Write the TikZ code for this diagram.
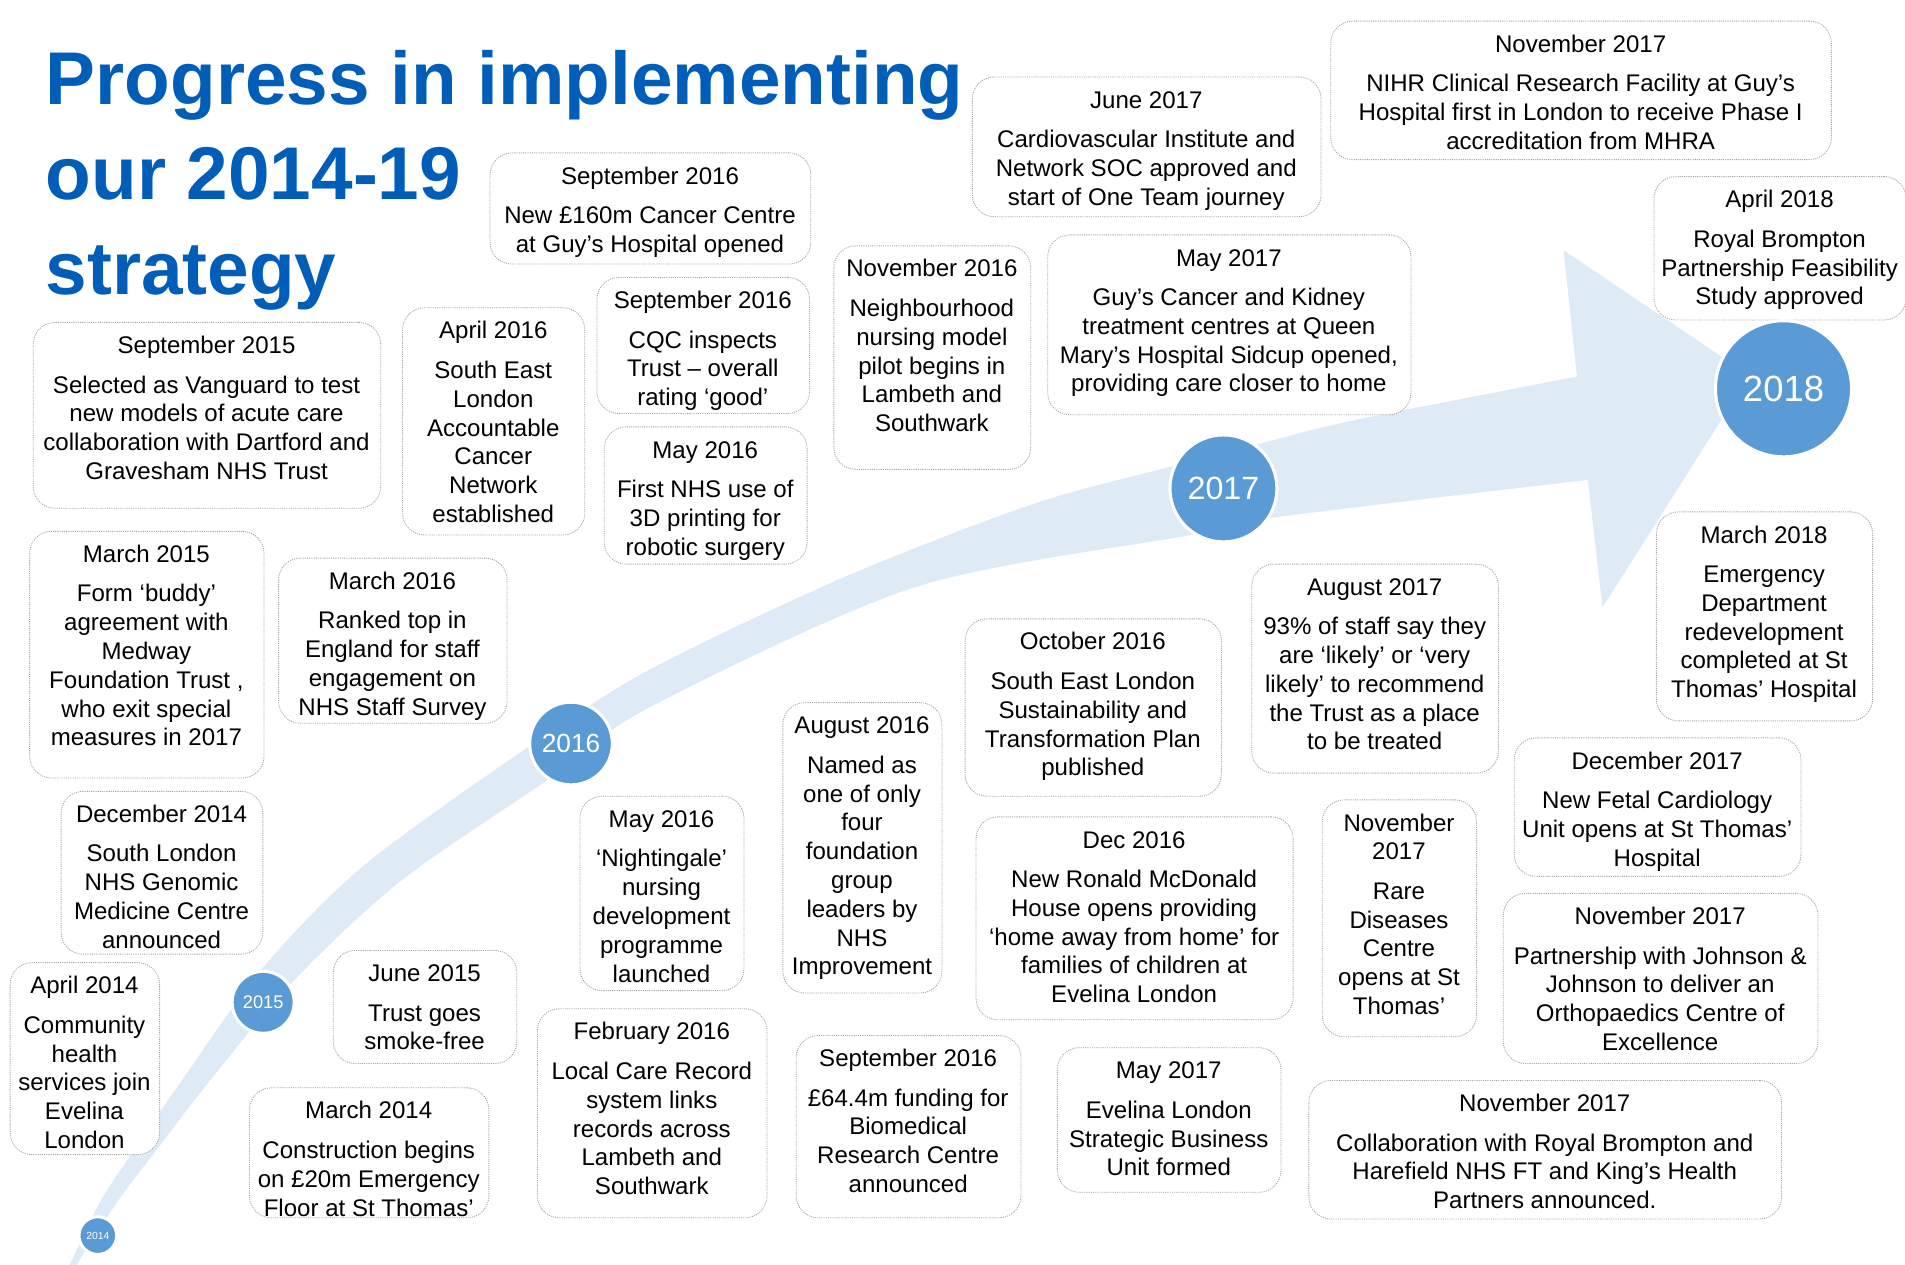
\documentclass[tikz,border=0pt]{standalone}
\usepackage{fontspec}
\setmainfont{Liberation Sans}
\definecolor{titleblue}{HTML}{005EB8}
\definecolor{circblue}{HTML}{5B9BD5}
\definecolor{bandblue}{HTML}{DEEBF7}
\definecolor{boxline}{HTML}{A6A6A6}
\tikzset{
 evt/.style={draw=boxline, line width=0.7pt, dash pattern=on 0.9pt off 0.9pt, rounded corners=18pt, fill=white, inner sep=0pt},
 evtxt/.style={align=center, inner sep=0pt, anchor=north, font=\fontsize{19.8}{23.7}\selectfont, text=black},
 yr/.style={circle, fill=circblue, draw=white, line width=2.5pt, text=white, inner sep=0pt},
 ttl/.style={anchor=base west, text=titleblue, font=\fontsize{61.5}{78}\selectfont\bfseries, inner sep=0pt}
}
\newcommand\evbox[7]{%
 \node[evt, anchor=north west, minimum width={(#4-#2)*1pt}, minimum height={(#5-#3)*1pt}] (#1) at (#2,#3) {};
 \node[evtxt] (#1t) at ({(#2+#4)/2},{#3+9.2}) {\strut#6\\[8.8pt]#7};}
\begin{document}
\begin{tikzpicture}[x=1pt,y=-1pt]
\useasboundingbox (0,0) rectangle (1568,1040.4);
\fill[white] (0,0) rectangle (1568,1040.4);
% band and arrow
\fill[bandblue] plot[smooth] coordinates {(55,1046) (82,990) (108,950) (152,886) (216,797) (300,712) (436,614) (535,551) (695,475) (850,415) (964,384) (1038,365) (1114,346) (1298,310)}
 -- (1287,206) -- (1440,309) -- (1319,500) --
 plot[smooth] coordinates {(1307,395) (1048,426) (982,440) (754,483) (535,582) (452,641) (330,725) (240,809) (170,893) (130,945) (96,990) (60,1046)} -- cycle;
% title
\node[ttl] (title1) at (37.5,86.4) {Progress in implementing};
\node[ttl] (title2) at (37.5,164.6) {our 2014-19};
\node[ttl] (title3) at (37.5,242.8) {strategy};
% boxes
\evbox{s2015}{27}{265}{313}{418}{September 2015}{Selected as Vanguard to test\\new models of acute care\\collaboration with Dartford and\\Gravesham NHS Trust}
\evbox{a2016}{331}{253}{481}{440}{April 2016}{South East\\London\\Accountable\\Cancer\\Network\\established}
\evbox{s2016a}{403}{125.5}{667}{217}{September 2016}{New £160m Cancer Centre\\at Guy’s Hospital opened}
\evbox{s2016b}{491}{228}{666}{340}{September 2016}{CQC inspects\\Trust – overall\\rating ‘good’}
\evbox{m2016a}{497}{351}{664}{464}{May 2016}{First NHS use of\\3D printing for\\robotic surgery}
\evbox{n2016}{686}{202}{848}{386}{November 2016}{Neighbourhood\\nursing model\\pilot begins in\\Lambeth and\\Southwark}
\evbox{j2017}{800}{63}{1087}{178}{June 2017}{Cardiovascular Institute and\\Network SOC approved and\\start of One Team journey}
\evbox{m2017a}{862}{193}{1161}{341}{May 2017}{Guy’s Cancer and Kidney\\treatment centres at Queen\\Mary’s Hospital Sidcup opened,\\providing care closer to home}
\evbox{n2017a}{1095}{17}{1507}{131}{November 2017}{NIHR Clinical Research Facility at Guy’s\\Hospital first in London to receive Phase I\\accreditation from MHRA}
\evbox{a2018}{1361}{145}{1568.5}{263}{April 2018}{Royal Brompton\\Partnership Feasibility\\Study approved}
\evbox{m2018}{1363}{421}{1541}{593}{March 2018}{Emergency\\Department\\redevelopment\\completed at St\\Thomas’ Hospital}
\evbox{au2017}{1030}{464}{1233}{636}{August 2017}{93\% of staff say they\\are ‘likely’ or ‘very\\likely’ to recommend\\the Trust as a place\\to be treated}
\evbox{o2016}{794}{509}{1005}{655}{October 2016}{South East London\\Sustainability and\\Transformation Plan\\published}
\evbox{d2017}{1246}{607}{1482}{721}{December 2017}{New Fetal Cardiology\\Unit opens at St Thomas’\\Hospital}
\evbox{n2017b}{1237}{735}{1496}{875}{November 2017}{Partnership with Johnson \&\\Johnson to deliver an\\Orthopaedics Centre of\\Excellence}
\evbox{n2017c}{1088}{658}{1215}{853}{November\\2017}{Rare\\Diseases\\Centre\\opens at St\\Thomas’}
\evbox{d2016}{803}{672}{1064}{839}{Dec 2016}{New Ronald McDonald\\House opens providing\\‘home away from home’ for\\families of children at\\Evelina London}
\evbox{au2016}{644}{578}{775}{817}{August 2016}{Named as\\one of only\\four\\foundation\\group\\leaders by\\NHS\\Improvement}
\evbox{m2016b}{477}{655}{612}{815}{May 2016}{‘Nightingale’\\nursing\\development\\programme\\launched}
\evbox{mr2016}{229}{459}{417}{595}{March 2016}{Ranked top in\\England for staff\\engagement on\\NHS Staff Survey}
\evbox{mr2015}{24}{437}{217}{640}{March 2015}{Form ‘buddy’\\agreement with\\Medway\\Foundation Trust ,\\who exit special\\measures in 2017}
\evbox{d2014}{50}{651}{216}{785}{December 2014}{South London\\NHS Genomic\\Medicine Centre\\announced}
\evbox{a2014}{8}{792}{131}{950}{April 2014}{Community\\health\\services join\\Evelina\\London}
\evbox{j2015}{274}{782}{425}{875}{June 2015}{Trust goes\\smoke-free}
\evbox{mr2014}{205}{895}{402}{1002}{March 2014}{Construction begins\\on £20m Emergency\\Floor at St Thomas’}
\evbox{f2016}{442}{830}{631}{1002}{February 2016}{Local Care Record\\system links\\records across\\Lambeth and\\Southwark}
\evbox{s2016c}{655}{852}{840}{1002}{September 2016}{£64.4m funding for\\Biomedical\\Research Centre\\announced}
\evbox{m2017b}{870}{862}{1054}{981}{May 2017}{Evelina London\\Strategic Business\\Unit formed}
\evbox{n2017d}{1077}{889}{1466}{1003}{November 2017}{Collaboration with Royal Brompton and\\Harefield NHS FT and King’s Health\\Partners announced.}
% year circles
\node[yr, minimum size=31pt, font=\fontsize{8.5}{10}\selectfont] (c2014) at (80.5,1017) {2014};
\node[yr, minimum size=51pt, font=\fontsize{15}{18}\selectfont] (c2015) at (216.6,825) {2015};
\node[yr, minimum size=68pt, font=\fontsize{21.6}{26}\selectfont] (c2016) at (470,612) {2016};
\node[yr, minimum size=88pt, font=\fontsize{26.5}{32}\selectfont] (c2017) at (1007,402) {2017};
\node[yr, minimum size=112pt, font=\fontsize{30}{36}\selectfont] (c2018) at (1468,320) {2018};
\end{tikzpicture}
\end{document}
